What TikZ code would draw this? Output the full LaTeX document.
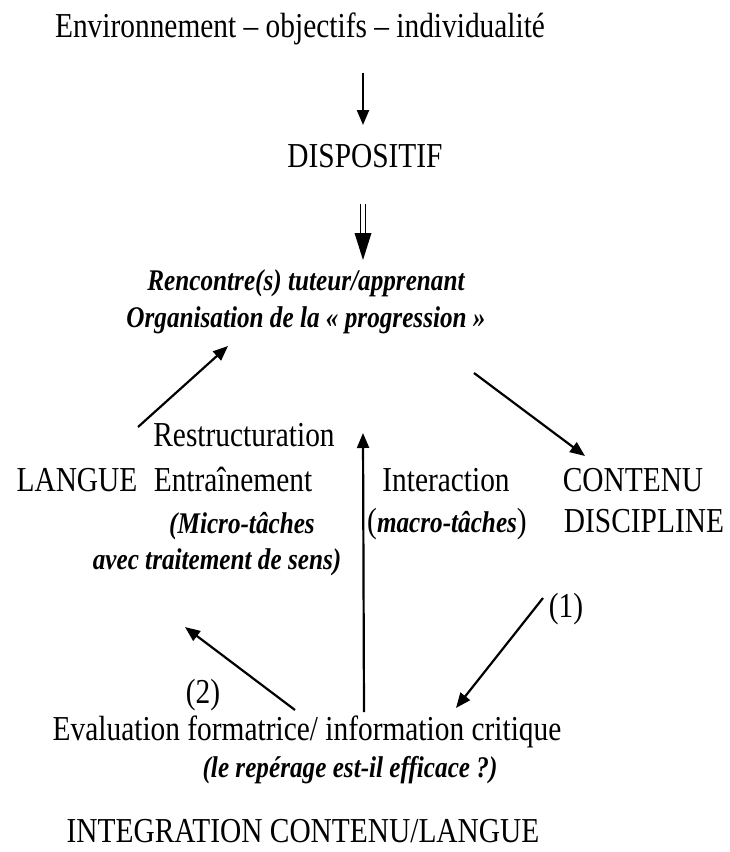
\documentclass[tikz,border=0pt]{standalone}
\usepackage{fontspec}
\setmainfont{Liberation Serif}[FakeStretch=0.84]
\usetikzlibrary{arrows.meta}

\begin{document}
\begin{tikzpicture}[x=1pt,y=-1pt,
    lbl/.style={inner sep=0pt,anchor=base,font=\fontsize{35}{40}\selectfont},
    emph/.style={inner sep=0pt,anchor=base,font=\fontsize{30}{36}\selectfont\bfseries\itshape},
    arr/.style={line width=2.2pt,-{Triangle[length=15pt,width=12pt]}}]
   \useasboundingbox[fill=white] (0,0) rectangle (729,852);
   % Top chain
   \node[lbl] (env)  at (300,37)  {Environnement -- objectifs -- individualité};
   \node[lbl] (disp) at (365,167) {DISPOSITIF};
   \node[emph] (renc) at (306,290) {Rencontre(s) tuteur/apprenant};
   \node[emph] (orga) at (306,327) {Organisation de la « progression »};
   % Middle row
   \node[lbl] (restr)   at (244,446) {Restructuration};
   \node[lbl] (langue)  at (77,491)  {LANGUE};
   \node[lbl] (entr)    at (233,491) {Entraînement};
   \node[emph] (micro)  at (242,533) {(Micro-tâches};
   \node[emph] (avec)   at (217,569) {avec traitement de sens)};
   \node[lbl] (inter)   at (446,491) {Interaction};
   \node[lbl] (macro)   at (447,532) {({\fontsize{30}{36}\selectfont\bfseries\itshape macro-tâches})};
   \node[lbl] (contenu) at (633,491) {CONTENU};
   \node[lbl] (disc)    at (644,532) {DISCIPLINE};
   % Bottom
   \node[lbl] (one)   at (566,617) {(1)};
   \node[lbl] (two)   at (203,703) {(2)};
   \node[lbl] (eval)  at (307,740) {Evaluation formatrice/ information critique};
   \node[emph] (rep)  at (350,777) {(le repérage est-il efficace ?)};
   \node[lbl] (integ) at (303,842) {INTEGRATION CONTENU/LANGUE};
   % Arrow ends
   \coordinate (envS)  at (363,73);
   \coordinate (dispN) at (363,125);
   \coordinate (dispS) at (363,204);
   \coordinate (rencN) at (363,260);
   \coordinate (langNE) at (138,427);
   \coordinate (rencSW) at (228,346);
   \coordinate (orgaSE) at (474,373);
   \coordinate (contNW) at (585,456);
   \coordinate (evalN)  at (364,712);
   \coordinate (restrE) at (363,433);
   \coordinate (oneSW)  at (543,598);
   \coordinate (evalNE) at (456,708);
   \coordinate (evalNW) at (295,710);
   \coordinate (twoN)   at (185,627);
   % Simple arrows
   \draw[arr] (envS) -- (dispN);
   \draw[arr] (langNE) -- (rencSW);
   \draw[arr] (orgaSE) -- (contNW);
   \draw[arr] (evalN) -- (restrE);
   \draw[arr] (oneSW) -- (evalNE);
   \draw[arr] (evalNW) -- (twoN);
   % Double arrow
   \draw[line width=1.3pt] ([xshift=-2.5pt]dispS) -- ++(0,32);
   \draw[line width=1.3pt] ([xshift=2.5pt]dispS) -- ++(0,32);
   \fill (rencN) -- ++(-8.5,-27) -- ++(17,0) -- cycle;
\end{tikzpicture}
\end{document}
